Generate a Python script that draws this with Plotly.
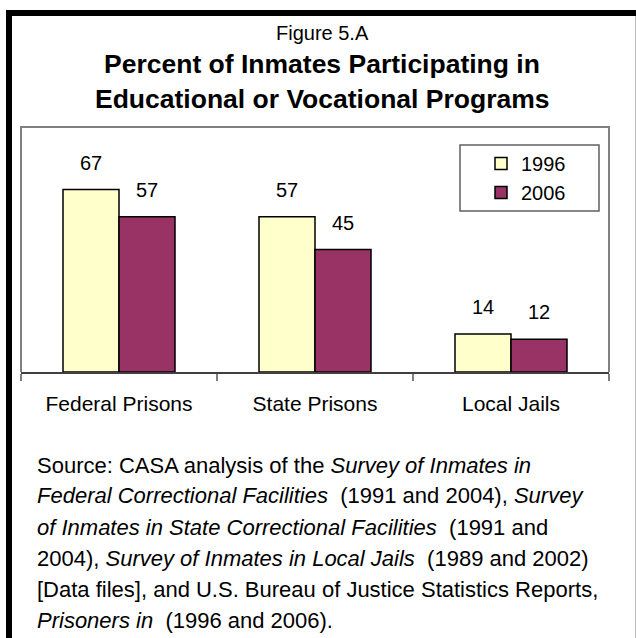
import plotly.graph_objects as go

# ---- data ----
categories = ["Federal Prisons", "State Prisons", "Local Jails"]
years = ["1996", "2006"]
values_1996 = [67, 57, 14]
values_2006 = [57, 45, 12]
series_colors = ["#FFFFCC", "#993366"]

title_top = "Figure 5.A"
title_lines = ["Percent of Inmates Participating in",
               "Educational or Vocational Programs"]
source_lines = [
    "Source: CASA analysis of the <i>Survey of Inmates in</i>",
    "<i>Federal Correctional Facilities</i>\u00a0 (1991 and 2004), <i>Survey</i>",
    "<i>of Inmates in State Correctional Facilities</i>\u00a0 (1991 and",
    "2004), <i>Survey of Inmates in Local Jails</i>\u00a0 (1989 and 2002)",
    "[Data files], and U.S. Bureau of Justice Statistics Reports,",
    "<i>Prisoners in</i>\u00a0 (1996 and 2006).",
]

# ---- layout geometry (pixels) ----
W, H = 636, 638
PL, PR, PT, PB = 21, 609, 127, 372      # plot-area box
BARGAP = 0.4286
FONT = "Liberation Sans, Arial, sans-serif"


def px_x(x):
    return (x - PL) / (PR - PL)


def px_y(y):
    return (PB - y) / (PB - PT)


series = [values_1996, values_2006]

fig = go.Figure()
for name, vals, col in zip(years, series, series_colors):
    fig.add_trace(go.Bar(
        x=categories, y=vals, name=name,
        marker=dict(color=col, line=dict(color="black", width=1.5)),
        hoverinfo="skip",
    ))

annotations = []

# value labels above each bar
cat_px = (PR - PL) / len(categories)
bar_px = cat_px * (1 - BARGAP) / len(series)
for si, vals in enumerate(series):
    shift = (si - (len(series) - 1) / 2) * bar_px
    for cat, v in zip(categories, vals):
        annotations.append(dict(
            x=cat, y=v, xref="x", yref="y", text=str(v), showarrow=False,
            xanchor="center", yanchor="middle", xshift=shift, yshift=27,
            font=dict(family=FONT, size=20, color="black"),
        ))

# titles
annotations.append(dict(
    x=px_x(322), y=px_y(33), xref="paper", yref="paper", text=title_top,
    showarrow=False, xanchor="center", yanchor="middle",
    font=dict(family=FONT, size=20, color="black"),
))
for txt, yc in zip(title_lines, [64, 99]):
    annotations.append(dict(
        x=px_x(322), y=px_y(yc), xref="paper", yref="paper",
        text="<b>" + txt + "</b>", showarrow=False,
        xanchor="center", yanchor="middle",
        font=dict(family=FONT, size=26.5, color="black"),
    ))

# source note
for i, txt in enumerate(source_lines):
    annotations.append(dict(
        x=px_x(36), y=px_y(465 + 31 * i), xref="paper", yref="paper",
        text=txt, showarrow=False, xanchor="left", yanchor="middle",
        align="left", borderpad=0,
        font=dict(family=FONT, size=22, color="black"),
    ))

shapes = [
    # plot-area border (left, top, right)
    dict(type="path", xref="paper", yref="paper",
         path="M0,0 L0,1 L1,1 L1,0", line=dict(color="#808080", width=2),
         layer="below"),
    # legend box
    dict(type="rect", xref="paper", yref="paper",
         x0=px_x(460), x1=px_x(599), y0=px_y(211), y1=px_y(145),
         line=dict(color="#606060", width=1.5), fillcolor="white",
         layer="below"),
    # outer frame
    dict(type="line", xref="paper", yref="paper",
         x0=px_x(6), x1=px_x(W + 2), y0=px_y(13), y1=px_y(13),
         line=dict(color="black", width=6)),
    dict(type="line", xref="paper", yref="paper",
         x0=px_x(9), x1=px_x(9), y0=px_y(10), y1=px_y(H + 2),
         line=dict(color="black", width=6)),
    dict(type="line", xref="paper", yref="paper",
         x0=px_x(635.5), x1=px_x(635.5), y0=px_y(16), y1=px_y(H + 2),
         line=dict(color="#BBBBBB", width=1)),
]

fig.update_layout(
    width=W, height=H,
    margin=dict(l=PL, r=W - PR, t=PT, b=H - PB, pad=0),
    paper_bgcolor="white", plot_bgcolor="white",
    barmode="group", bargap=BARGAP, bargroupgap=0,
    showlegend=True,
    legend=dict(
        x=px_x(481), y=px_y(144), xanchor="left", yanchor="top",
        bgcolor="rgba(0,0,0,0)", borderwidth=0,
        font=dict(family=FONT, size=20, color="black"),
        traceorder="normal",
    ),
    xaxis=dict(
        showline=True, linecolor="#404040", linewidth=2,
        ticks="outside", tickson="boundaries", ticklen=7,
        tickcolor="#808080", tickwidth=2,
        showgrid=False, zeroline=False, ticklabelstandoff=12,
        tickfont=dict(family=FONT, size=21, color="black"),
        fixedrange=True,
    ),
    yaxis=dict(
        range=[0, 90], showticklabels=False, showgrid=False,
        zeroline=False, showline=False, ticks="", fixedrange=True,
    ),
    annotations=annotations,
    shapes=shapes,
    font=dict(family=FONT, color="black"),
)

fig.write_html("out.html", config={"displayModeBar": False})
